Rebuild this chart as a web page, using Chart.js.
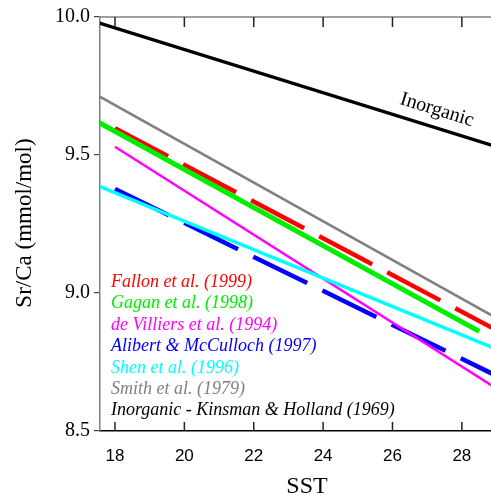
<!DOCTYPE html>
<html>
<head>
<meta charset="utf-8">
<script src="https://cdn.jsdelivr.net/npm/chart.js@4/dist/chart.umd.min.js"></script>
<style>
  body { margin: 0; background: #fff; }
  canvas { display: block; }
</style>
</head>
<body>
<canvas id="chart" width="491" height="497"></canvas>
<script>
// Sr/Ca - SST calibrations (end points)
const fallonT = [18, 28.9];
const fallonSrCa = [9.597, 8.872];
const gaganT = [17.5, 28.5];
const gaganSrCa = [9.620, 8.861];
const deVilliersT = [18, 28.9];
const deVilliersSrCa = [9.530, 8.662];
const alibertT = [18, 28.9];
const alibertSrCa = [9.377, 8.706];
const shenT = [17.5, 28.9];
const shenSrCa = [9.389, 8.802];
const smithT = [17.5, 28.9];
const smithSrCa = [9.716, 8.916];
const inorganicT = [17.5, 28.9];
const inorganicSrCa = [9.980, 9.534];

const xTicks = [18, 20, 22, 24, 26, 28];
const yTicks = [8.5, 9.0, 9.5, 10.0];

const legendLabels = [
    "Fallon et al. (1999)",
    "Gagan et al. (1998)",
    "de Villiers et al. (1994)",
    "Alibert & McCulloch (1997)",
    "Shen et al. (1996)",
    "Smith et al. (1979)",
    "Inorganic - Kinsman & Holland (1969)"
];
const legendColors = ["#ff0000", "#00ee00", "#ff00ff", "#0000ff", "#00ffff", "#808080", "#000000"];

function pts(xs, ys) {
    return xs.map((x, i) => ({ x: x, y: ys[i] }));
}

function line(label, xs, ys, color, width, dash, order) {
    return {
        label: label,
        data: pts(xs, ys),
        borderColor: color,
        borderWidth: width,
        borderDash: dash || [],
        borderCapStyle: "butt",
        pointRadius: 0,
        showLine: true,
        fill: false,
        clip: 0,
        order: order
    };
}

// garis tambahan: bingkai, tick ke dalam, legenda, judul sumbu
const decor = {
    id: "decor",
    afterDraw(chart) {
        const c = chart.ctx;
        const a = chart.chartArea;
        const xs = chart.scales.x;
        c.save();
        c.lineWidth = 1.5;
        c.strokeStyle = "#808080";
        c.beginPath();
        c.moveTo(a.left, a.top);
        c.lineTo(a.right, a.top);
        c.stroke();
        c.strokeStyle = "#222";
        c.beginPath();
        xTicks.forEach(t => {
            const px = xs.getPixelForValue(t);
            c.moveTo(px, a.top);
            c.lineTo(px, a.top + 10);
            c.moveTo(px, a.bottom);
            c.lineTo(px, a.bottom - 9);
        });
        c.stroke();

        c.font = "italic 18px 'Liberation Serif'";
        c.textBaseline = "middle";
        c.textAlign = "left";
        legendLabels.forEach((s, i) => {
            c.fillStyle = legendColors[i];
            c.fillText(s, 111, 282 + i * 21.45);
        });

        c.fillStyle = "#000";
        c.font = "20px 'Liberation Serif'";
        c.save();
        c.translate(437, 110);
        c.rotate(17.3 * Math.PI / 180);
        c.textAlign = "center";
        c.fillText("Inorganic", 0, 0);
        c.restore();

        c.font = "24px 'Liberation Serif'";
        c.textAlign = "center";
        c.fillText("SST", 307, 487);
        c.save();
        c.translate(25, 223);
        c.rotate(-Math.PI / 2);
        c.font = "23px 'Liberation Serif'";
        c.fillText("Sr/Ca (mmol/mol)", 0, 0);
        c.restore();
        c.restore();
    }
};

const ctx = document.getElementById("chart").getContext("2d");
const chart = new Chart(ctx, {
    type: "scatter",
    data: {
        datasets: [
            line(legendLabels[0], fallonT, fallonSrCa, legendColors[0], 4.5, [60, 17], 2),
            line(legendLabels[1], gaganT, gaganSrCa, legendColors[1], 5, null, 1),
            line(legendLabels[2], deVilliersT, deVilliersSrCa, legendColors[2], 2.5, null, 4),
            line(legendLabels[3], alibertT, alibertSrCa, legendColors[3], 4.5, [60, 17], 5),
            line(legendLabels[4], shenT, shenSrCa, legendColors[4], 3.5, null, 3),
            line(legendLabels[5], smithT, smithSrCa, legendColors[5], 2.5, null, 6),
            line(legendLabels[6], inorganicT, inorganicSrCa, legendColors[6], 3.2, null, 7)
        ]
    },
    options: {
        responsive: false,
        animation: false,
        layout: { padding: { top: 17, right: 0, left: 0, bottom: 0 } },
        plugins: {
            legend: { display: false },
            tooltip: { enabled: false }
        },
        scales: {
            x: {
                type: "linear",
                min: 17.568,
                max: 28.84,
                afterBuildTicks: s => { s.ticks = xTicks.map(v => ({ value: v })); },
                afterFit: s => { s.height = 66; },
                grid: { display: false },
                border: { display: true, color: "#000", width: 1.5 },
                ticks: {
                    padding: 7,
                    color: "#000",
                    font: { family: "'Liberation Sans'", size: 17 },
                    maxRotation: 0
                }
            },
            y: {
                type: "linear",
                min: 8.5,
                max: 10.0,
                afterBuildTicks: s => { s.ticks = yTicks.map(v => ({ value: v })); },
                afterFit: s => { s.width = 100; },
                grid: { drawOnChartArea: false, drawTicks: true, tickLength: 6, color: "#444", lineWidth: 1.2 },
                border: { display: true, color: "#808080", width: 1.5 },
                ticks: {
                    padding: 4,
                    color: "#000",
                    font: { family: "'Liberation Serif'", size: 20 },
                    callback: v => v.toFixed(1)
                }
            }
        }
    },
    plugins: [decor]
});
</script>
</body>
</html>
